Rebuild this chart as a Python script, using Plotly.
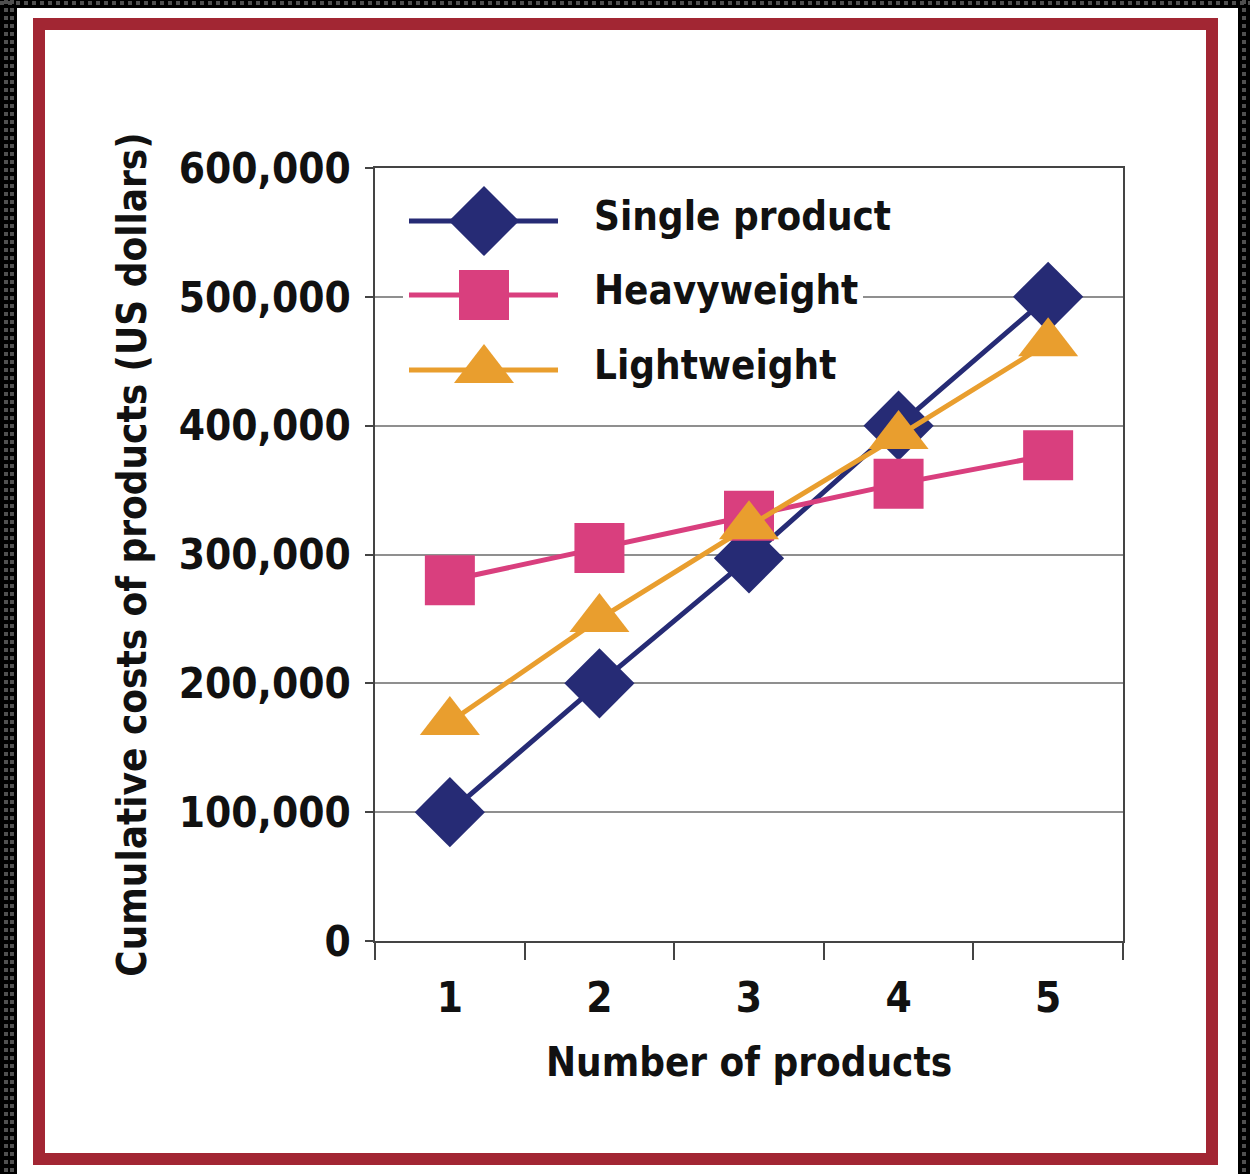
import plotly.graph_objects as go

# ---- data ----
products = ["1", "2", "3", "4", "5"]
single_product = [100000, 200000, 297000, 400000, 500000]
heavyweight = [280000, 305000, 330000, 355000, 377000]
lightweight = [170000, 250000, 322000, 392000, 464000]
series_names = ["Single product", "Heavyweight", "Lightweight"]
y_ticks = [0, 100000, 200000, 300000, 400000, 500000, 600000]

# ---- styling ----
NAVY = "#262B75"
PINK = "#D93F7E"
ORANGE = "#E99E2E"
FRAME_RED = "#A22633"
FONT = "DejaVu Sans Condensed, DejaVu Sans, sans-serif"
TXT = "#111111"
TICK_SIZE = 42
TITLE_SIZE = 40

W, H = 1250, 1174
PL, PR, PT, PB = 375, 1123, 168, 941  # plot area in page pixels


def fx(px):
    """page x pixel -> paper fraction"""
    return (px - PL) / (PR - PL)


def fy(py):
    """page y pixel -> paper fraction"""
    return (PB - py) / (PB - PT)


fig = go.Figure()

styles = [
    (single_product, NAVY, "diamond", 54),
    (heavyweight, PINK, "square", 50),
    (lightweight, ORANGE, "triangle-up", 52),
]
for name, (vals, col, sym, size) in zip(series_names, styles):
    fig.add_trace(go.Scatter(
        x=products, y=vals, name=name, mode="lines+markers",
        line=dict(color=col, width=5),
        marker=dict(symbol=sym, size=size, color=col, opacity=1, line=dict(width=0)),
        showlegend=False,
    ))

# key drawn on a pixel-scaled overlay axis pair
KEY_BOX_X, KEY_BOX_Y = [403, 863, 863, 403, 403], [182, 182, 395, 395, 182]
fig.add_trace(go.Scatter(
    x=KEY_BOX_X, y=KEY_BOX_Y, xaxis="x2", yaxis="y2", mode="lines",
    fill="toself", fillcolor="white", line=dict(width=0, color="white"),
    showlegend=False, hoverinfo="skip",
))
KEY_X0, KEY_XM, KEY_X1, KEY_TEXT_X = 409, 484, 558, 592
KEY_ROWS = [221, 295, 370]
for name, (vals, col, sym, size), row in zip(series_names, styles, KEY_ROWS):
    fig.add_trace(go.Scatter(
        x=[KEY_X0, KEY_XM, KEY_X1], y=[row, row, row],
        xaxis="x2", yaxis="y2", mode="lines+markers",
        line=dict(color=col, width=5),
        marker=dict(symbol=sym, size=[0, size, 0], color=col, opacity=1,
                    line=dict(width=0)),
        showlegend=False, hoverinfo="skip",
    ))
    fig.add_annotation(
        x=KEY_TEXT_X, y=row - 5, xref="x2", yref="y2", text=name,
        showarrow=False, xanchor="left", yanchor="middle",
        font=dict(family=FONT, size=TITLE_SIZE, color=TXT, weight="bold"),
    )

shapes = [
    # white page inside the dark border
    dict(type="rect", xref="paper", yref="paper", layer="below",
         x0=fx(17), x1=fx(1238), y0=fy(1174), y1=fy(8),
         fillcolor="white", line=dict(width=0)),
    # red frame
    dict(type="rect", xref="paper", yref="paper", layer="below",
         x0=fx(39), x1=fx(1212), y0=fy(1159), y1=fy(24),
         fillcolor="rgba(0,0,0,0)", line=dict(color=FRAME_RED, width=12)),
]
# dotted dark border
for (x0, y0, x1, y1) in [(6, 0, 6, 1174), (12, 0, 12, 1174), (1244, 0, 1244, 1174),
                         (0, 3, 1250, 3)]:
    shapes.append(dict(type="line", xref="paper", yref="paper", layer="below",
                       x0=fx(x0), x1=fx(x1), y0=fy(y0), y1=fy(y1),
                       line=dict(color="#505050", width=4, dash="dot")))

fig.update_layout(
    width=W, height=H,
    margin=dict(l=PL, r=W - PR, t=PT, b=H - PB, pad=0),
    paper_bgcolor="black", plot_bgcolor="white",
    font=dict(family=FONT, color=TXT),
    shapes=shapes,
    xaxis=dict(
        type="category", categoryorder="array", categoryarray=products,
        range=[-0.5005, 4.5005],
        tickson="boundaries", ticks="outside", ticklen=17, tickwidth=1.5,
        tickcolor="#444444", showgrid=False, showline=True, mirror=True,
        linecolor="#444444", linewidth=2, zeroline=False,
        tickfont=dict(family=FONT, size=TICK_SIZE, color=TXT, weight="bold"),
        ticklabelstandoff=19,
        title=dict(text="Number of products", standoff=27,
                   font=dict(family=FONT, size=TITLE_SIZE, color=TXT, weight="bold")),
        automargin=False,
    ),
    yaxis=dict(
        range=[0, 600000], tickvals=y_ticks, tickformat=",",
        ticks="outside", ticklen=8, tickwidth=1.5, tickcolor="#444444",
        showgrid=True, gridcolor="#8f8f8f", gridwidth=1.5,
        showline=True, mirror=True, linecolor="#444444", linewidth=1.5,
        zeroline=False,
        tickfont=dict(family=FONT, size=TICK_SIZE, color=TXT, weight="bold"),
        ticklabelstandoff=6,
        title=dict(text="Cumulative costs of products (US dollars)",
                   standoff=20,
                   font=dict(family=FONT, size=TITLE_SIZE, color=TXT, weight="bold")),
        automargin=False,
    ),
    xaxis2=dict(overlaying="x", range=[PL, PR], visible=False, fixedrange=True),
    yaxis2=dict(overlaying="y", range=[PB, PT], visible=False, fixedrange=True),
)

fig.write_html("out.html")
